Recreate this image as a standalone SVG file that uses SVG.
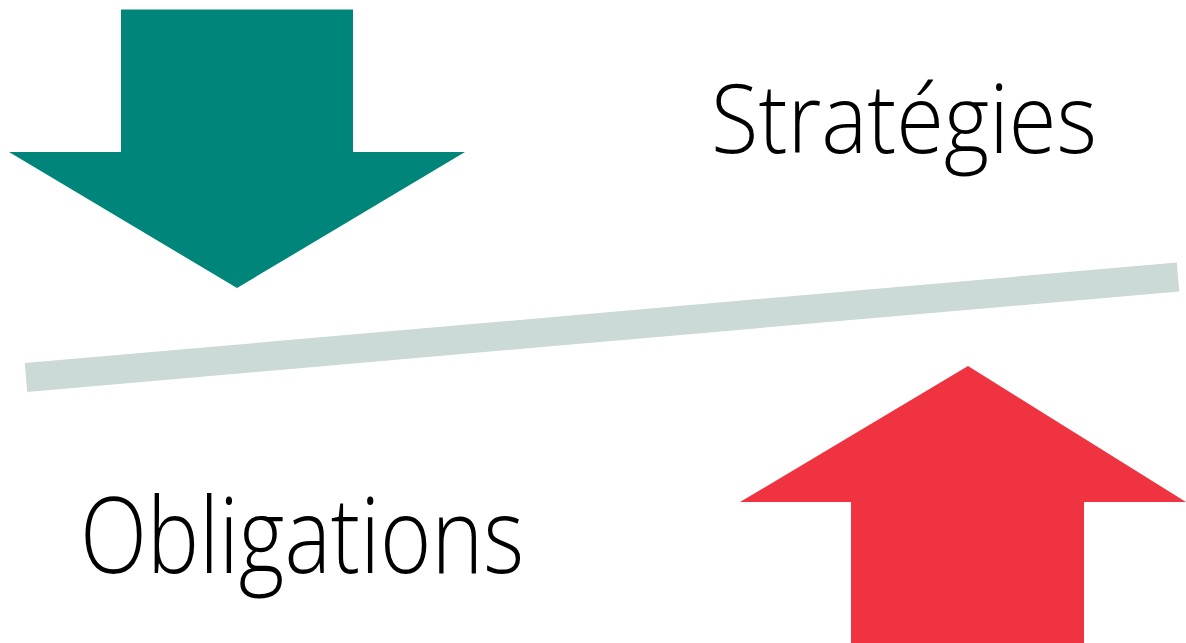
<svg xmlns="http://www.w3.org/2000/svg" width="1186" height="643" viewBox="0 0 1186 643">
<style>
.lbl{font-family:"Open Sans","Liberation Sans",sans-serif;font-weight:300;fill:#000}
</style>
<rect width="1186" height="643" fill="#fff"/>
<g id="arrow-down">
<polygon points="121,9.5 353,9.5 353,152 465,152 237,288 9,152 121,152" fill="#00857A"/>
</g>
<g id="arrow-up">
<polygon points="968,366 1186,502 1084,502 1084,643 851,643 851,502 740,502" fill="#EF3340"/>
</g>
<g id="connectors">
<line x1="26" y1="377.5" x2="1178" y2="277" stroke="#CBDAD6" stroke-width="29"/>
</g>
<g id="label-strategies">
<text class="lbl" x="711" y="153" font-size="95" textLength="386" lengthAdjust="spacingAndGlyphs">Stratégies</text>
</g>
<g id="label-obligations">
<text class="lbl" x="80" y="573" font-size="105" textLength="444" lengthAdjust="spacingAndGlyphs">Obligations</text>
</g>
</svg>
